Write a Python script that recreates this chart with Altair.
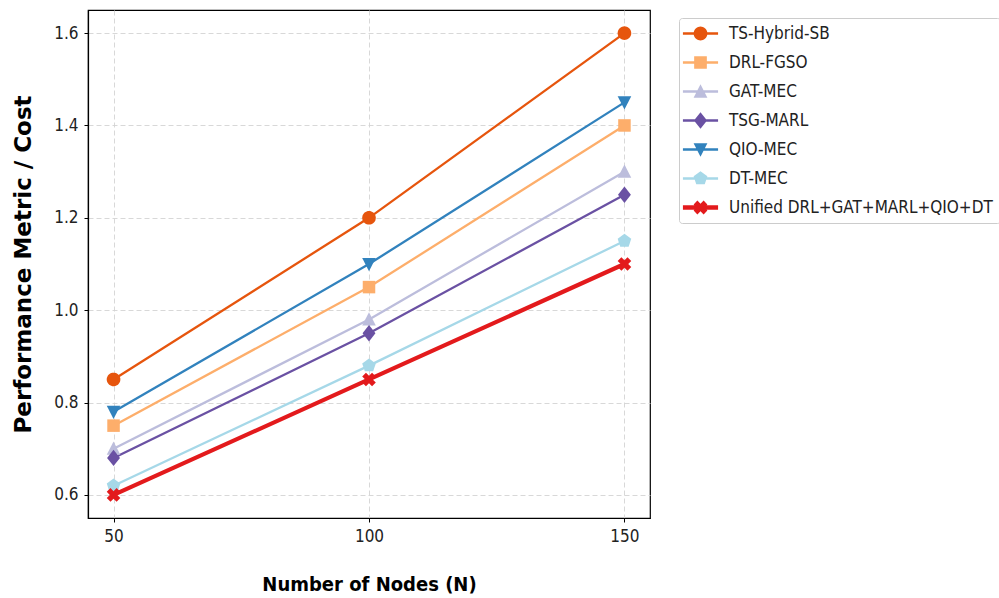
import math
import altair as alt
import pandas as pd

# ---------------- data ----------------
nodes = [50, 100, 150]
series_names = [
    "TS-Hybrid-SB",
    "DRL-FGSO",
    "GAT-MEC",
    "TSG-MARL",
    "QIO-MEC",
    "DT-MEC",
    "Unified DRL+GAT+MARL+QIO+DT",
]
ts_hybrid_sb = [0.85, 1.20, 1.60]
drl_fgso = [0.75, 1.05, 1.40]
gat_mec = [0.70, 0.98, 1.30]
tsg_marl = [0.68, 0.95, 1.25]
qio_mec = [0.78, 1.10, 1.45]
dt_mec = [0.62, 0.88, 1.15]
unified = [0.60, 0.85, 1.10]
y_ticks = [0.6, 0.8, 1.0, 1.2, 1.4, 1.6]

# ---------------- styles ----------------
colors = ["#e6550d", "#fdae6b", "#bcbddc", "#6a51a3", "#3182bd", "#a6d8e8", "#e31a1c"]
line_widths = [2.3, 2.3, 2.3, 2.3, 2.3, 2.3, 4.2]


def poly(pts):
    area = sum(x1 * y2 - x2 * y1 for (x1, y1), (x2, y2) in zip(pts, pts[1:] + pts[:1]))
    if area < 0:
        pts = pts[::-1]
    return "M" + "L".join(f"{x:.3f},{y:.3f}" for x, y in pts) + "Z"


circle = poly([(math.cos(2 * math.pi * k / 36), math.sin(2 * math.pi * k / 36)) for k in range(36)])
square = poly([(-0.92, -0.92), (0.92, -0.92), (0.92, 0.92), (-0.92, 0.92)])
tri_up = poly([(0, -1.05), (1.0, 0.9), (-1.0, 0.9)])
tri_down = poly([(0, 1.05), (-1.0, -0.9), (1.0, -0.9)])
diamond = poly([(0, -1.2), (0.95, 0), (0, 1.2), (-0.95, 0)])
pentagon = poly([(1.05 * math.cos(math.radians(-90 + 72 * k)), 1.05 * math.sin(math.radians(-90 + 72 * k))) for k in range(5)])
c = 0.55
s = 1.0
xfill = poly([(s * x, s * y) for x, y in [
    (-1 + c, -1), (0, -c), (1 - c, -1), (1, -1 + c), (c, 0), (1, 1 - c),
    (1 - c, 1), (0, c), (-1 + c, 1), (-1, 1 - c), (-c, 0), (-1, -1 + c)]])
markers = [circle, square, tri_up, diamond, tri_down, pentagon, xfill]


def legend_line(half_t):
    L = 2.55
    return poly([(-L, -half_t), (L, -half_t), (L, half_t), (-L, half_t)])


legend_paths = [
    legend_line(0.33 if lw > 3 else 0.17) + " " + m for lw, m in zip(line_widths, markers)
]

values = [ts_hybrid_sb, drl_fgso, gat_mec, tsg_marl, qio_mec, dt_mec, unified]
rows = []
for name, vals, mk, lw in zip(series_names, values, markers, line_widths):
    for n, v in zip(nodes, vals):
        rows.append({"series": name, "nodes": n, "value": v, "mk": mk, "lw": lw})
df = pd.DataFrame(rows)

COND = "DejaVu Sans Condensed, DejaVu Sans"

x_enc = alt.X(
    "nodes:Q",
    scale=alt.Scale(domain=[45, 155], nice=False, zero=False),
    axis=alt.Axis(
        values=nodes,
        title="Number of Nodes (N)",
        titleFont=COND,
        titleFontSize=20,
        titleFontWeight="bold",
        titleY=66,
        titleBaseline="middle",
        labelPadding=6,
    ),
)
y_enc = alt.Y(
    "value:Q",
    scale=alt.Scale(domain=[0.55, 1.65], nice=False, zero=False),
    axis=alt.Axis(
        values=y_ticks,
        format=".1f",
        title="Performance Metric / Cost",
        titleFont="DejaVu Sans",
        titleFontSize=23,
        titleFontWeight="bold",
        titleAngle=270,
        titleX=-65,
        titleY=254,
        titleAlign="center",
        titleBaseline="middle",
        labelPadding=6,
    ),
)
color_scale = alt.Scale(domain=series_names, range=colors)

leg = alt.Legend(
    title=None,
    orient="none",
    legendX=591,
    legendY=8,
    padding=7,
    strokeColor="#cccccc",
    fillColor="white",
    cornerRadius=3,
    labelFont=COND,
    labelFontSize=17,
    labelColor="#222222",
    symbolSize=190,
    symbolStrokeWidth=0,
    symbolOffset=6,
    labelOffset=20,
    rowPadding=11,
    labelLimit=400,
)

legend_layer = (
    alt.Chart(df)
    .transform_filter("false")
    .mark_point(filled=True, size=190, opacity=1)
    .encode(
        x=x_enc,
        y=y_enc,
        color=alt.Color("series:N", scale=color_scale, legend=leg),
        shape=alt.Shape("series:N", scale=alt.Scale(domain=series_names, range=legend_paths), legend=leg),
    )
)

lines = alt.Chart(df).mark_line().encode(
    x=x_enc,
    y=y_enc,
    color=alt.Color("series:N", scale=color_scale, legend=leg),
    strokeWidth=alt.StrokeWidth("lw:Q", scale=None),
)

points = alt.Chart(df).mark_point(filled=True, size=185, opacity=1).encode(
    x=x_enc,
    y=y_enc,
    color=alt.Color("series:N", scale=color_scale, legend=leg),
    shape=alt.Shape("mk:N", scale=None),
)

chart = (
    alt.layer(legend_layer, lines, points)
    .properties(
        width=562,
        height=508,
        padding={"left": 88, "top": 10, "right": 349, "bottom": 80},
        autosize=alt.AutoSizeParams(type="none"),
        background="white",
    )
    .configure_view(stroke="black", strokeWidth=1.2)
    .configure_axis(
        labelFont=COND,
        labelFontSize=17,
        labelColor="#222222",
        tickColor="black",
        tickSize=4,
        domainColor="black",
        domainWidth=1.2,
        gridColor="#d4d4d4",
        gridDash=[5, 3],
        gridWidth=0.9,
        titleColor="black",
    )
)

chart.save("out.html", embed_options={"renderer": "svg", "actions": False})
